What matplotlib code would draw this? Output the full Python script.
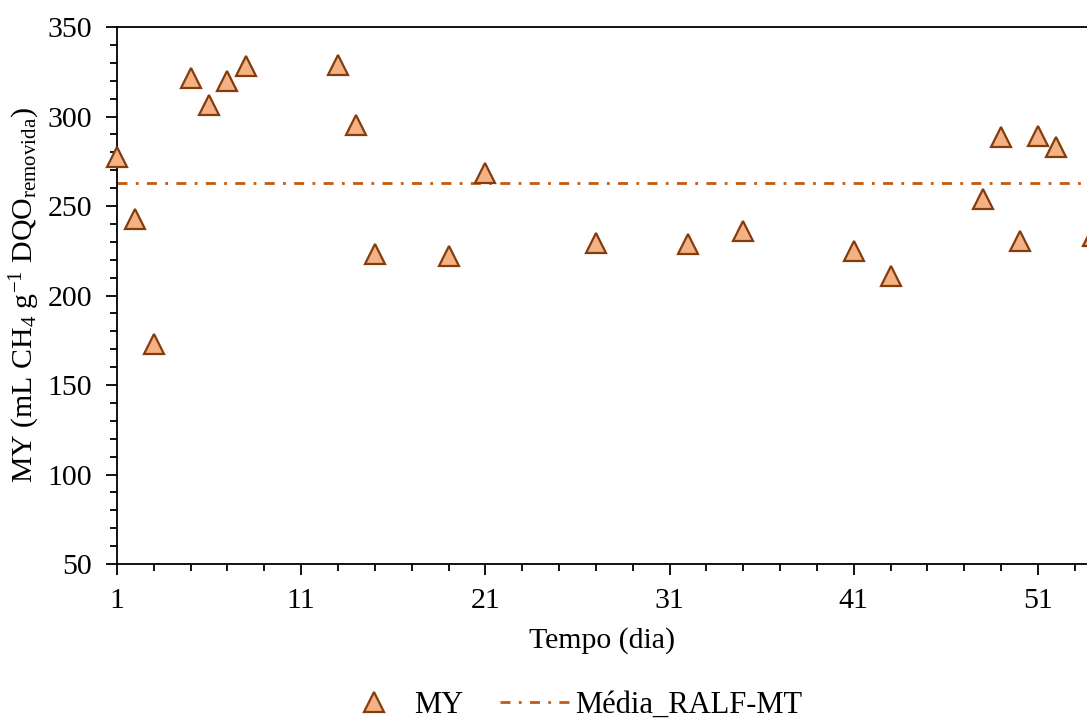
import matplotlib
matplotlib.use('Agg')
import matplotlib.pyplot as plt
from matplotlib.ticker import MultipleLocator, FixedLocator

plt.rcParams['font.family'] = ['Liberation Serif', 'DejaVu Serif']
plt.rcParams['mathtext.fontset'] = 'custom'
plt.rcParams['mathtext.rm'] = 'Liberation Serif'
plt.rcParams['mathtext.it'] = 'Liberation Serif:italic'

# Data
dias = [1, 2, 3, 5, 6, 7, 8, 13, 14, 15, 19, 21, 27, 32, 35, 41, 43, 48, 49, 50, 51, 52, 54]
my_vals = [277.5, 243, 173, 321.5, 306.5, 320, 328, 328.5, 295, 223, 222, 268.5,
           229.5, 229, 236, 225, 211, 254, 288.5, 230.5, 289, 283, 233.5]
media_ralf_mt = 262.8

FS = 21.5


def create_plot():
    fig = plt.figure(figsize=(10.87, 7.26), dpi=100)
    ax = fig.add_axes([0.1076, 0.2231, 0.8924 + 0.001, 0.7397])

    ax.plot(dias, my_vals, linestyle='none', marker='^', markersize=15,
            markerfacecolor='#F4B183', markeredgecolor='#843C0C',
            markeredgewidth=1.6, label='MY', zorder=3, clip_on=False)
    ax.axhline(media_ralf_mt, color='#C55A11', linewidth=2.0,
               dashes=(3.6, 3, 1, 3), label='Média_RALF-MT', zorder=2)

    ax.set_xlim(1, 53.72)
    ax.set_ylim(50, 350)

    ax.xaxis.set_major_locator(FixedLocator([1, 11, 21, 31, 41, 51]))
    ax.xaxis.set_minor_locator(FixedLocator(list(range(1, 55, 2))))
    ax.yaxis.set_major_locator(MultipleLocator(50))
    ax.yaxis.set_minor_locator(MultipleLocator(10))

    ax.tick_params(which='major', direction='out', length=8, width=1.3,
                   labelsize=FS)
    ax.tick_params(axis='x', which='major', pad=9)
    ax.tick_params(axis='y', which='major', pad=10)
    ax.tick_params(which='minor', direction='out', length=5, width=1.3)

    for side in ['left', 'bottom', 'top']:
        ax.spines[side].set_linewidth(1.3)
    ax.spines['right'].set_visible(False)

    ax.set_xlabel('Tempo (dia)', fontsize=FS, labelpad=10)
    ax.set_ylabel(r'MY (mL CH$_4$ g$^{-1}$ DQO$_{\mathrm{removida}}$)', fontsize=FS, labelpad=4)

    fig.legend(loc='center', bbox_to_anchor=(0.525, 0.028), ncol=2, frameon=False,
               fontsize=22, handlelength=2.3, columnspacing=1.2, handletextpad=0.15,
               borderpad=0.1)
    return fig


if __name__ == "__main__":
    fig = create_plot()
    fig.savefig('out.png', dpi=100)
